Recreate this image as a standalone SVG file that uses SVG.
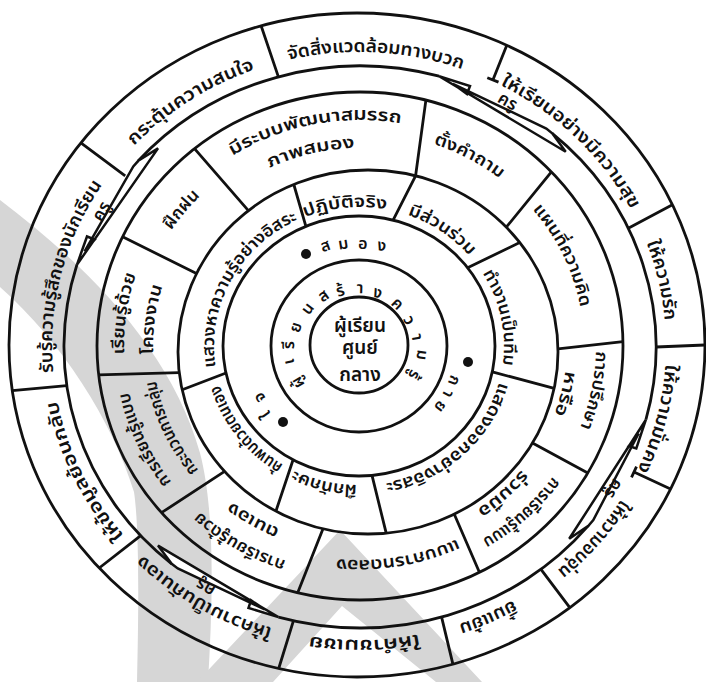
<svg xmlns="http://www.w3.org/2000/svg" width="706" height="682" viewBox="0 0 706 682">
<style>
.ln{fill:none;stroke:#111;stroke-width:2.8;stroke-linejoin:round}
.bolt{fill:#fff;stroke:#111;stroke-width:2.5;stroke-linejoin:miter}
.wm{fill:#d6d6d6;stroke:none}
.t{font-family:"Noto Sans Thai","Noto Sans","DejaVu Sans",sans-serif;font-size:17px;font-weight:600;fill:#111;text-anchor:middle}
.g{font-size:18px}
.s{font-size:16px}
.k{font-size:17px}
.c{font-size:19px}
</style>
<defs>
<path id="pG" d="M359,52 A307 294 0 1 1 359,640 A307 294 0 1 1 359,52 A307 294 0 1 1 359,640 A307 294 0 1 1 359,52"/>
<path id="pE1" d="M360,120 A236 226 0 1 1 360,572 A236 226 0 1 1 360,120 A236 226 0 1 1 360,572 A236 226 0 1 1 360,120"/>
<path id="pE2" d="M360,148 A207 198 0 1 1 360,544 A207 198 0 1 1 360,148 A207 198 0 1 1 360,544 A207 198 0 1 1 360,148"/>
<path id="pEs" d="M360,132 A224 214 0 1 1 360,560 A224 214 0 1 1 360,132 A224 214 0 1 1 360,560 A224 214 0 1 1 360,132"/>
<path id="pD" d="M359,207 A145 139 0 1 1 359,485 A145 139 0 1 1 359,207 A145 139 0 1 1 359,485 A145 139 0 1 1 359,207"/>
</defs>
<rect width="706" height="682" fill="#fff"/>

<g id="watermark">
<path class="wm" d="M0,200 C90,268 172,352 200,453 C215,510 213,600 208,682 L137,682 C139,600 139,525 134,492 C112,420 62,342 0,287 Z"/>
<path class="wm" fill-rule="evenodd" d="M197,682 L340,530 L482,682 Z M273,682 L436,682 L342,606 Z"/>
</g>

<g id="connectors">
<ellipse class="ln" cx="357" cy="345" rx="348" ry="332"/>
<ellipse class="ln" cx="360" cy="346" rx="263" ry="254"/>
<ellipse class="ln" cx="368" cy="352" rx="190" ry="182"/>
<ellipse class="ln" cx="359" cy="346" rx="136" ry="130"/>
<ellipse class="ln" cx="359" cy="346" rx="88" ry="86"/>
<ellipse class="ln" cx="359" cy="345" rx="49" ry="48"/>
<path class="ln" d="M138.3,160.8 A296 281 0 0 1 439.1,76.2 M552.2,133.3 A296 281 0 0 1 645.9,419.7 M588.4,525.7 A296 281 0 0 1 278.4,617.1 M171.7,563.8 A296 281 0 0 1 76.9,264.8"/>
<path class="ln" d="M261.1,25.8 L278.4,76.9 M672.4,204.7 L628.3,228.2 M705,345 L656,347 M569.8,607.7 L541,569.3 M452.9,664.2 L441.6,617.1 M278.7,668.5 L293.4,620.8 M99.2,568 L140.7,535.7 M12.3,390.6 L66.8,385.6 M80.9,142.9 L125.2,175.9"/>
<path class="ln" d="M506.8,45.3 L492.9,79.9 M487.3,77.7 L498.5,82.1 M670.5,489 L634,472 M636.5,466.6 L631.5,477.4"/>
<path class="ln" d="M248.4,210.6 L194.5,148.6 M415.6,175.8 L425.9,100.1 M506.3,227.2 L551.4,171.8 M558,348.8 L623,341.6 M532.5,443 L587.8,473 M454.3,514.2 L479.4,572.3 M323,528.8 L297.7,592.8 M224.6,471.4 L161.5,512.7 M179.2,372.6 L98.7,374.8 M196.5,273.6 L122.6,236.7"/>
<path class="ln" d="M305.9,226.3 L293.8,184.5 M393.1,220.1 L415.6,175.8 M467.6,267.8 L519.7,242.5 M492.3,371.9 L554.2,388.3 M372,475.4 L386.2,533.2 M293.1,459.7 L275.9,511.2 M226,373 L182.2,389.8"/>
<polygon class="bolt" points="439.1,76.2 470,86 467,94 452.9,83.8 546.3,128.6 552.2,133.3 565.7,151.8"/>
<polygon class="bolt" points="645.9,419.7 636.3,448.5 628.7,446 638.6,433.5 593.3,520 588.4,525.7 569.2,538.8"/>
<polygon class="bolt" points="278.4,617.1 248.5,608 251,600.3 264.6,609.4 177.8,568.4 171.7,563.8 158,545.6"/>
<polygon class="bolt" points="76.9,264.8 87,236.5 94.8,239.5 84.6,251.4 133.3,166.4 138.3,160.8 158,148.4"/>
</g>

<g id="ring-outer">
<text class="t g"><textPath href="#pG" startOffset="50.45%" textLength="176" lengthAdjust="spacingAndGlyphs">จัดสิ่งแวดล้อมทางบวก</textPath></text>
<text class="t g"><textPath href="#pG" startOffset="56.3%" textLength="183" lengthAdjust="spacingAndGlyphs">ให้เรียนอย่างมีความสุข</textPath></text>
<text class="t g"><textPath href="#pG" startOffset="60.76%" textLength="80" lengthAdjust="spacingAndGlyphs">ให้ความรัก</textPath></text>
<text class="t g"><textPath href="#pG" startOffset="14.44%" textLength="110" lengthAdjust="spacingAndGlyphs">ให้ความมั่นคง</textPath></text>
<text class="t g"><textPath href="#pG" startOffset="18.06%" textLength="96" lengthAdjust="spacingAndGlyphs">ให้ความอบอุ่น</textPath></text>
<text class="t g"><textPath href="#pG" startOffset="21.53%" textLength="60" lengthAdjust="spacingAndGlyphs">ยิ้มแย้ม</textPath></text>
<text class="t g"><textPath href="#pG" startOffset="24.86%" textLength="110" lengthAdjust="spacingAndGlyphs">ให้คำชมเชย</textPath></text>
<text class="t g"><textPath href="#pG" startOffset="29.31%" textLength="150" lengthAdjust="spacingAndGlyphs">ให้ความเป็นกันเอง</textPath></text>
<text class="t g"><textPath href="#pG" startOffset="34.03%" textLength="152" lengthAdjust="spacingAndGlyphs">ให้ข้อมูลย้อนกลับ</textPath></text>
<text class="t g"><textPath href="#pG" startOffset="39.42%" textLength="198" lengthAdjust="spacingAndGlyphs">รับรู้ความรู้สึกของนักเรียน</textPath></text>
<text class="t g"><textPath href="#pG" startOffset="45.28%" textLength="144" lengthAdjust="spacingAndGlyphs">กระตุ้นความสนใจ</textPath></text>
</g>

<g id="teacher-band">
<text class="t k" transform="translate(508,101) rotate(30)" y="6">ครู</text>
<text class="t k" transform="translate(614,489) rotate(122)" y="6">ครู</text>
<text class="t k" transform="translate(205,588) rotate(211)" y="6">ครู</text>
<text class="t k" transform="translate(101,211) rotate(300)" y="6">ครู</text>
</g>

<g id="ring-methods">
<text class="t"><textPath href="#pE1" startOffset="48.4%" textLength="175" lengthAdjust="spacingAndGlyphs">มีระบบพัฒนาสมรรถ</textPath></text>
<text class="t"><textPath href="#pE2" startOffset="48.06%" textLength="88" lengthAdjust="spacingAndGlyphs">ภาพสมอง</textPath></text>
<text class="t"><textPath href="#pEs" startOffset="54.08%" textLength="75" lengthAdjust="spacingAndGlyphs">ตั้งคำถาม</textPath></text>
<text class="t"><textPath href="#pEs" startOffset="59.08%" textLength="110" lengthAdjust="spacingAndGlyphs">แผนที่ความคิด</textPath></text>
<text class="t"><textPath href="#pE1" startOffset="14.03%" textLength="78" lengthAdjust="spacingAndGlyphs">การปรึกษา</textPath></text>
<text class="t"><textPath href="#pE2" startOffset="14.36%" textLength="45" lengthAdjust="spacingAndGlyphs">หารือ</textPath></text>
<text class="t"><textPath href="#pE1" startOffset="18.96%" textLength="95" lengthAdjust="spacingAndGlyphs">การเรียนรู้แบบ</textPath></text>
<text class="t"><textPath href="#pE2" startOffset="18.96%" textLength="60" lengthAdjust="spacingAndGlyphs">ร่วมมือ</textPath></text>
<text class="t"><textPath href="#pEs" startOffset="23.61%" textLength="124" lengthAdjust="spacingAndGlyphs">แบบการทดลอง</textPath></text>
<text class="t"><textPath href="#pE1" startOffset="29.31%" textLength="100" lengthAdjust="spacingAndGlyphs">การเรียนรู้ด้วย</textPath></text>
<text class="t"><textPath href="#pE2" startOffset="29.31%" textLength="55" lengthAdjust="spacingAndGlyphs">ตนเอง</textPath></text>
<text class="t"><textPath href="#pE1" startOffset="34.17%" textLength="100" lengthAdjust="spacingAndGlyphs">การเรียนรู้แบบ</textPath></text>
<text class="t"><textPath href="#pE2" startOffset="34.17%" textLength="100" lengthAdjust="spacingAndGlyphs">กระบวนการกลุ่ม</textPath></text>
<text class="t"><textPath href="#pE1" startOffset="38.61%" textLength="81" lengthAdjust="spacingAndGlyphs">เรียนรู้ด้วย</textPath></text>
<text class="t"><textPath href="#pE2" startOffset="38.53%" textLength="69" lengthAdjust="spacingAndGlyphs">โครงงาน</textPath></text>
<text class="t"><textPath href="#pEs" startOffset="42.78%" textLength="45" lengthAdjust="spacingAndGlyphs">ฝึกฝน</textPath></text>
</g>

<g id="ring-activities">
<text class="t"><textPath href="#pD" startOffset="49.22%" textLength="83" lengthAdjust="spacingAndGlyphs">ปฏิบัติจริง</textPath></text>
<text class="t"><textPath href="#pD" startOffset="54.86%" textLength="75" lengthAdjust="spacingAndGlyphs">มีส่วนร่วม</textPath></text>
<text class="t"><textPath href="#pD" startOffset="60.88%" textLength="96" lengthAdjust="spacingAndGlyphs">ทำงานเป็นทีม</textPath></text>
<text class="t"><textPath href="#pD" startOffset="19.03%" textLength="160" lengthAdjust="spacingAndGlyphs">แสดงออกอย่างอิสระ</textPath></text>
<text class="t"><textPath href="#pD" startOffset="26.94%" textLength="65" lengthAdjust="spacingAndGlyphs">ฝึกทักษะ</textPath></text>
<text class="t"><textPath href="#pD" startOffset="32.36%" textLength="104" lengthAdjust="spacingAndGlyphs">ค้นพบด้วยตนเอง</textPath></text>
<text class="t"><textPath href="#pD" startOffset="41.39%" textLength="181" lengthAdjust="spacingAndGlyphs">แสวงหาความรู้อย่างอิสระ</textPath></text>
</g>

<g id="ring-brain-heart-body">
<circle cx="306" cy="254" r="5" fill="#111"/>
<circle cx="468" cy="362" r="5" fill="#111"/>
<circle cx="283" cy="422" r="5" fill="#111"/>
<text class="t s" transform="translate(325,245) rotate(341)" y="6">ส</text>
<text class="t s" transform="translate(343,243) rotate(351)" y="6">ม</text>
<text class="t s" transform="translate(363,243) rotate(2)" y="6">อ</text>
<text class="t s" transform="translate(382,245) rotate(13)" y="6">ง</text>
<text class="t s" transform="translate(455,381) rotate(110)" y="6">ก</text>
<text class="t s" transform="translate(449,394) rotate(118)" y="6">า</text>
<text class="t s" transform="translate(441,407) rotate(127)" y="6">ย</text>
<text class="t s" transform="translate(265,415) rotate(234)" y="6">ใ</text>
<text class="t s" transform="translate(259,398) rotate(242)" y="6">จ</text>
</g>

<g id="ring-learner">
<text class="t s" transform="translate(297,383) rotate(239)" y="6">ผู้</text>
<text class="t s" transform="translate(288,362) rotate(257)" y="6">เ</text>
<text class="t s" transform="translate(288,345) rotate(271)" y="6">รี</text>
<text class="t s" transform="translate(295,327) rotate(287)" y="6">ย</text>
<text class="t s" transform="translate(307,308) rotate(307)" y="6">น</text>
<text class="t s" transform="translate(323,295) rotate(325)" y="6">ส</text>
<text class="t s" transform="translate(340,290) rotate(342)" y="6">ร้</text>
<text class="t s" transform="translate(360,287) rotate(2)" y="6">า</text>
<text class="t s" transform="translate(378,292) rotate(20)" y="6">ง</text>
<text class="t s" transform="translate(398,303) rotate(43)" y="6">ค</text>
<text class="t s" transform="translate(410,320) rotate(63)" y="6">ว</text>
<text class="t s" transform="translate(418,337) rotate(81)" y="6">า</text>
<text class="t s" transform="translate(423,355) rotate(98)" y="6">ม</text>
<text class="t s" transform="translate(415,375) rotate(117)" y="6">รู้</text>
</g>

<g id="center">
<text class="t c" x="360" y="332">ผู้เรียน</text>
<text class="t c" x="360" y="354">ศูนย์</text>
<text class="t c" x="360" y="381">กลาง</text>
</g>
</svg>
